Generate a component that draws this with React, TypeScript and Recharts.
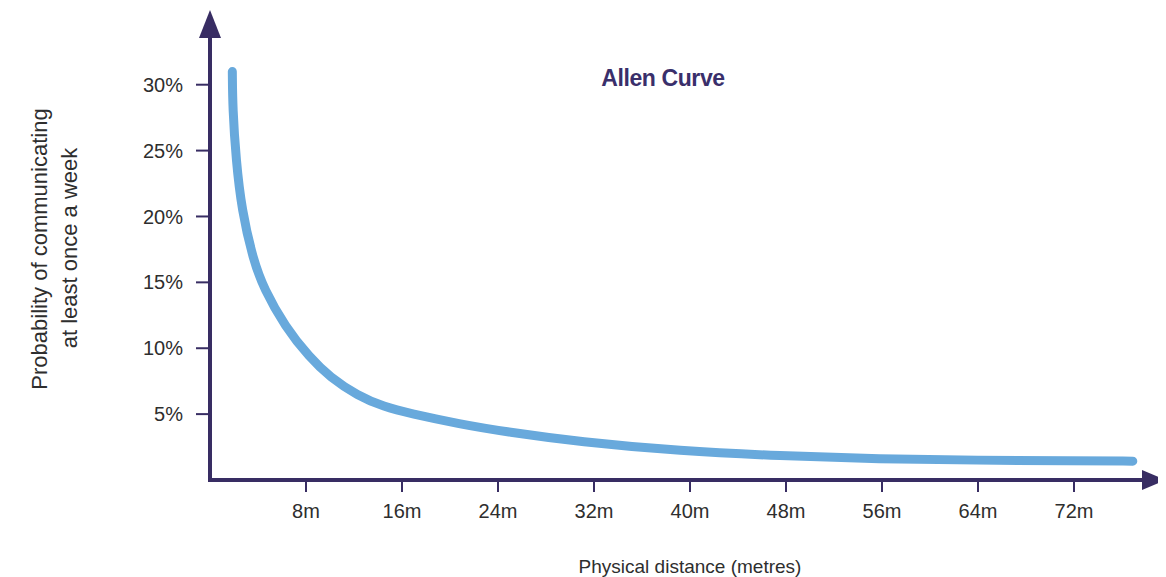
import { Line, LineChart, ReferenceDot, XAxis, YAxis } from "recharts"

const distanceM = [1.86, 1.89, 2.17, 2.64, 3.6, 4.5, 6.25, 8.3, 10, 12.3, 14.5, 16.67, 20.8, 24.7, 30.8, 39.2, 47.5, 55.8, 64, 72, 76.9]
const probabilityPct = [31.0, 28.2, 24.3, 20.5, 16.7, 14.5, 11.65, 9.3, 7.8, 6.4, 5.55, 5.05, 4.25, 3.65, 2.9, 2.2, 1.83, 1.6, 1.5, 1.45, 1.43]
const xTicks = [8, 16, 24, 32, 40, 48, 56, 64, 72]
const yTicks = [5, 10, 15, 20, 25, 30]

const data = distanceM.map((d, i) => ({ d, p: probabilityPct[i] }))

const AXIS = "#382d63"
const TEXT = "#2e2e2e"
const FONT = "'Liberation Sans', Arial, sans-serif"

const UpArrow = (props: any) => {
  const { cx, cy } = props
  return <path d={`M${cx - 11},${cy + 6} L${cx},${cy - 22} L${cx + 11},${cy + 6} Z`} fill={AXIS} />
}

const RightArrow = (props: any) => {
  const { cx, cy } = props
  return <path d={`M${cx - 4},${cy - 10} L${cx + 20},${cy} L${cx - 4},${cy + 10} Z`} fill={AXIS} />
}

export default function App() {
  return (
    <div style={{ position: "relative", width: 1158, height: 569, fontFamily: FONT }}>
      <LineChart
        width={1158}
        height={569}
        data={data}
        margin={{ top: 24, right: 20, left: 142, bottom: 57 }}
        style={{ overflow: "visible" }}
      >
        <XAxis
          type="number"
          dataKey="d"
          domain={[0, 78]}
          ticks={xTicks}
          tickFormatter={(v) => `${v}m`}
          height={40}
          tickSize={12}
          tickMargin={12}
          axisLine={{ stroke: AXIS, strokeWidth: 4, strokeLinecap: "square" }}
          tickLine={{ stroke: AXIS, strokeWidth: 2 }}
          tick={{ fill: TEXT, fontSize: 20, fontFamily: FONT }}
        />
        <YAxis
          type="number"
          domain={[0, 34]}
          ticks={yTicks}
          tickFormatter={(v) => `${v}%`}
          width={60}
          tickSize={14}
          tickMargin={13}
          axisLine={{ stroke: AXIS, strokeWidth: 4, strokeLinecap: "square" }}
          tickLine={{ stroke: AXIS, strokeWidth: 2 }}
          tick={{ fill: TEXT, fontSize: 20, fontFamily: FONT }}
        />
        {/* basis keeps the hand-read points from showing corners */}
        <Line
          type="basis"
          dataKey="p"
          stroke="#68a9dc"
          strokeWidth={9}
          strokeLinecap="round"
          strokeLinejoin="round"
          dot={false}
          activeDot={false}
          isAnimationActive={false}
        />
        <ReferenceDot x={0} y={34} ifOverflow="visible" shape={UpArrow} />
        <ReferenceDot x={78} y={0} ifOverflow="visible" shape={RightArrow} />
      </LineChart>
      <div
        style={{
          position: "absolute",
          left: 555,
          top: 59,
          width: 200,
          textAlign: "center",
          fontSize: 23,
          lineHeight: 1,
          fontWeight: "bold",
          letterSpacing: -0.4,
          color: "#3a2f6b",
        }}
      >
        Allen Curve
      </div>
      <div
        style={{
          position: "absolute",
          left: 32 - 200,
          top: 241 - 11,
          width: 400,
          textAlign: "center",
          fontSize: 22,
          lineHeight: "22px",
          color: TEXT,
          transform: "rotate(-90deg)",
        }}
      >
        Probability of communicating
      </div>
      <div
        style={{
          position: "absolute",
          left: 62 - 200,
          top: 240 - 11,
          width: 400,
          textAlign: "center",
          fontSize: 22,
          lineHeight: "22px",
          color: TEXT,
          transform: "rotate(-90deg)",
        }}
      >
        at least once a week
      </div>
      <div
        style={{
          position: "absolute",
          left: 682 - 200,
          top: 549,
          width: 400,
          textAlign: "center",
          fontSize: 19,
          lineHeight: 1,
          color: TEXT,
        }}
      >
        Physical distance (metres)
      </div>
    </div>
  )
}
